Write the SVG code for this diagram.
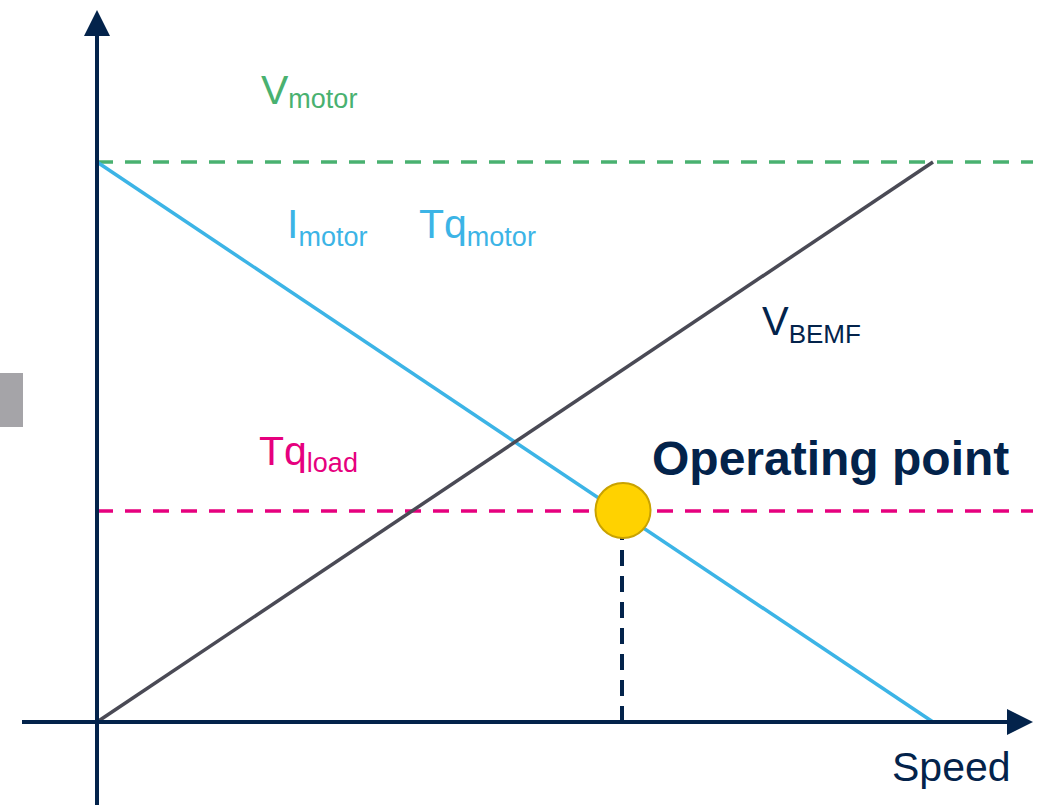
<svg xmlns="http://www.w3.org/2000/svg" width="1049" height="805" viewBox="0 0 1049 805">
<style>
.axis{stroke:#03234B;stroke-width:4;fill:none}
.dash{stroke-width:3.5;stroke-dasharray:16 12;fill:none}
.t{font-family:"Liberation Sans",Arial,sans-serif}
</style>
<defs>
<marker id="ah" viewBox="0 0 26 26" refX="0" refY="13" markerWidth="26" markerHeight="26" markerUnits="userSpaceOnUse" orient="auto">
<path d="M0,0 L26,13 L0,26 Z" fill="#03234B"/>
</marker>
</defs>
<rect width="1049" height="805" fill="#ffffff"/>
<rect id="side-tab" x="0" y="373" width="23" height="54" fill="#A5A4A8"/>
<g id="connectors">
<line class="dash" x1="97" y1="162" x2="1033" y2="162" stroke="#49B170"/>
<line class="dash" x1="97" y1="511" x2="1033" y2="511" stroke="#E6007E"/>
<line x1="97" y1="162" x2="933" y2="722" stroke="#3CB4E6" stroke-width="3.5"/>
<line x1="97" y1="722" x2="933" y2="162" stroke="#4A4A55" stroke-width="3.5"/>
<line x1="622" y1="722" x2="622" y2="538" stroke="#03234B" stroke-width="4" stroke-dasharray="16 10"/>
<line class="axis" x1="97" y1="805" x2="97" y2="36" marker-end="url(#ah)"/>
<line class="axis" x1="22" y1="722" x2="1007" y2="722" marker-end="url(#ah)"/>
</g>
<g id="operating-point">
<circle cx="623" cy="510.5" r="27.5" fill="#FFD200" stroke="#C9A200" stroke-width="2"/>
<text class="t" x="652" y="475" font-size="48" font-weight="bold" fill="#03234B">Operating point</text>
</g>
<g id="label-vmotor">
<text class="t" x="261" y="104" font-size="41" fill="#49B170">V<tspan font-size="27" dy="4">motor</tspan></text>
</g>
<g id="label-imotor">
<text class="t" x="287" y="238" font-size="41" fill="#3CB4E6">I<tspan font-size="27" dy="8">motor</tspan></text>
</g>
<g id="label-tqmotor">
<text class="t" x="419" y="238" font-size="41" fill="#3CB4E6">Tq<tspan font-size="27" dy="8">motor</tspan></text>
</g>
<g id="label-vbemf">
<text class="t" x="762" y="335" font-size="40" fill="#03234B">V<tspan font-size="26" dy="8">BEMF</tspan></text>
</g>
<g id="label-tqload">
<text class="t" x="259" y="465" font-size="41" fill="#E6007E">Tq<tspan font-size="27" dy="7">load</tspan></text>
</g>
<g id="label-speed">
<text class="t" x="892" y="781" font-size="41" fill="#03234B">Speed</text>
</g>
</svg>
